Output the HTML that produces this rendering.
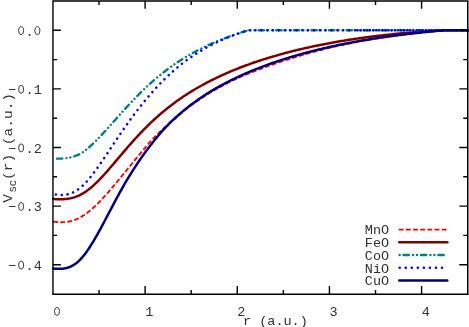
<!DOCTYPE html>
<html><head><meta charset="utf-8"><title>V_SC(r)</title>
<style>
html,body{margin:0;padding:0;background:#fff;}
body{width:469px;height:327px;overflow:hidden;}
svg{display:block;will-change:transform;}
text{font-family:"Liberation Mono",monospace;font-size:13.5px;fill:#303030;}
</style></head><body>
<svg width="469" height="327" viewBox="0 0 469 327">
<rect x="0" y="0" width="469" height="327" fill="#fff"/>
<clipPath id="c"><rect x="51.95" y="0.95" width="417.8" height="293.25"/></clipPath>
<g fill="none" clip-path="url(#c)" stroke-linejoin="round">
<path d="M53.20,221.69 L54.51,221.80 L55.82,221.91 L57.13,222.01 L58.44,222.09 L59.75,222.15 L61.05,222.18 L62.36,222.18 L63.67,222.14 L64.98,222.06 L66.29,221.93 L67.60,221.76 L68.91,221.54 L70.22,221.27 L71.53,220.94 L72.84,220.56 L74.15,220.13 L75.45,219.64 L76.76,219.09 L78.07,218.49 L79.38,217.84 L80.69,217.13 L82.00,216.36 L83.31,215.55 L84.62,214.68 L85.93,213.76 L87.24,212.80 L88.55,211.79 L89.86,210.73 L91.16,209.63 L92.47,208.49 L93.78,207.32 L95.09,206.10 L96.40,204.85 L97.71,203.56 L99.02,202.24 L100.33,200.90 L101.64,199.52 L102.95,198.12 L104.26,196.70 L105.56,195.25 L106.87,193.78 L108.18,192.30 L109.49,190.79 L110.80,189.28 L112.11,187.74 L113.42,186.20 L114.73,184.65 L116.04,183.08 L117.35,181.51 L118.66,179.94 L119.96,178.36 L121.27,176.77 L122.58,175.19 L123.89,173.60 L125.20,172.00 L126.51,170.38 L127.82,168.75 L129.13,167.13 L130.44,165.52 L131.75,163.91 L133.06,162.30 L134.37,160.70 L135.67,159.11 L136.98,157.52 L138.29,155.93 L139.60,154.36 L140.91,152.80 L142.22,151.24 L143.53,149.65 L144.84,148.08 L146.15,146.51 L147.46,144.96 L148.77,143.43 L150.07,141.91 L151.38,140.53 L152.69,139.16 L154.00,137.80 L155.31,136.46 L156.62,135.14 L157.93,133.82 L159.24,132.53 L160.55,131.26 L161.86,130.02 L163.17,128.80 L164.47,127.59 L165.78,126.39 L167.09,125.22 L168.40,124.05 L169.71,122.90 L171.02,121.77 L172.33,120.65 L173.64,119.55 L174.95,118.46 L176.26,117.32 L177.57,116.19 L178.87,115.08 L180.18,113.98 L181.49,112.90 L182.80,111.83 L184.11,110.78 L185.42,109.74 L186.73,108.71 L188.04,107.70 L189.35,106.70 L190.66,105.72 L191.97,104.75 L193.28,103.79 L194.58,102.85 L195.89,101.92 L197.20,101.00 L198.51,100.10 L199.82,99.20 L201.13,98.33 L202.44,97.46 L203.75,96.61 L205.06,95.77 L206.37,94.94 L207.68,94.12 L208.98,93.32 L210.29,92.52 L211.60,91.74 L212.91,90.97 L214.22,90.21 L215.53,89.46 L216.84,88.72 L218.15,87.99 L219.46,87.27 L220.77,86.56 L222.08,85.86 L223.38,85.18 L224.69,84.50 L226.00,83.83 L227.31,83.16 L228.62,82.51 L229.93,81.87 L231.24,81.23 L232.55,80.60 L233.86,79.99 L235.17,79.37 L236.48,78.77 L237.79,78.17 L239.09,77.59 L240.40,77.00 L241.71,76.43 L243.02,75.86 L244.33,75.30 L245.64,74.75 L246.95,74.20 L248.26,73.65 L249.57,73.12 L250.88,72.59 L252.19,72.06 L253.49,71.54 L254.80,71.03 L256.11,70.52 L257.42,70.01 L258.73,69.51 L260.04,69.02 L261.35,68.53 L262.66,68.04 L263.97,67.56 L265.28,67.08 L266.59,66.61 L267.89,66.14 L269.20,65.68 L270.51,65.22 L271.82,64.76 L273.13,64.31 L274.44,63.86 L275.75,63.41 L277.06,62.97 L278.37,62.53 L279.68,62.09 L280.99,61.66 L282.29,61.23 L283.60,60.81 L284.91,60.38 L286.22,59.96 L287.53,59.55 L288.84,59.13 L290.15,58.72 L291.46,58.32 L292.77,57.91 L294.08,57.51 L295.39,57.12 L296.70,56.72 L298.00,56.33 L299.31,55.94 L300.62,55.56 L301.93,55.18 L303.24,54.80 L304.55,54.42 L305.86,54.05 L307.17,53.68 L308.48,53.31 L309.79,52.95 L311.10,52.59 L312.40,52.23 L313.71,51.87 L315.02,51.52 L316.33,51.17 L317.64,50.83 L318.95,50.49 L320.26,50.15 L321.57,49.81 L322.88,49.48 L324.19,49.15 L325.50,48.82 L326.80,48.50 L328.11,48.18 L329.42,47.86 L330.73,47.55 L332.04,47.24 L333.35,46.93 L334.66,46.62 L335.97,46.32 L337.28,46.02 L338.59,45.73 L339.90,45.43 L341.21,45.14 L342.51,44.86 L343.82,44.57 L345.13,44.29 L346.44,44.02 L347.75,43.74 L349.06,43.47 L350.37,43.20 L351.68,42.94 L352.99,42.67 L354.30,42.41 L355.61,42.16 L356.91,41.90 L358.22,41.65 L359.53,41.40 L360.84,41.16 L362.15,40.92 L363.46,40.68 L364.77,40.44 L366.08,40.21 L367.39,39.97 L368.70,39.75 L370.01,39.52 L371.31,39.30 L372.62,39.07 L373.93,38.86 L375.24,38.64 L376.55,38.43 L377.86,38.22 L379.17,38.01 L380.48,37.80 L381.79,37.60 L383.10,37.40 L384.41,37.20 L385.71,37.00 L387.02,36.81 L388.33,36.62 L389.64,36.43 L390.95,36.24 L392.26,36.06 L393.57,35.88 L394.88,35.70 L396.19,35.52 L397.50,35.34 L398.81,35.17 L400.12,35.00 L401.42,34.83 L402.73,34.66 L404.04,34.50 L405.35,34.33 L406.66,34.17 L407.97,34.01 L409.28,33.86 L410.59,33.70 L411.90,33.55 L413.21,33.40 L414.52,33.25 L415.82,33.10 L417.13,32.96 L418.44,32.81 L419.75,32.67 L421.06,32.53 L422.37,32.39 L423.68,32.26 L424.99,32.12 L426.30,31.99 L427.61,31.86 L428.92,31.73 L430.22,31.60 L431.53,31.47 L432.84,31.35 L434.15,31.23 L435.46,31.11 L436.77,30.99 L438.08,30.87 L439.39,30.75 L440.70,30.64 L442.01,30.52 L443.32,30.41 L444.62,30.30 L470.00,30.30" stroke="#ff0000" stroke-width="1.9" stroke-dasharray="4.8 2.3"/>
<path d="M53.20,198.82 L54.51,199.03 L55.82,199.15 L57.13,199.23 L58.44,199.28 L59.75,199.30 L61.05,199.29 L62.36,199.26 L63.67,199.20 L64.98,199.10 L66.29,198.98 L67.60,198.81 L68.91,198.61 L70.22,198.37 L71.53,198.09 L72.84,197.75 L74.15,197.37 L75.45,196.93 L76.76,196.45 L78.07,195.91 L79.38,195.31 L80.69,194.65 L82.00,193.94 L83.31,193.18 L84.62,192.36 L85.93,191.48 L87.24,190.55 L88.55,189.57 L89.86,188.54 L91.16,187.46 L92.47,186.33 L93.78,185.16 L95.09,183.95 L96.40,182.69 L97.71,181.40 L99.02,180.08 L100.33,178.72 L101.64,177.34 L102.95,175.93 L104.26,174.49 L105.56,173.03 L106.87,171.55 L108.18,170.06 L109.49,168.55 L110.80,167.03 L112.11,165.50 L113.42,163.97 L114.73,162.42 L116.04,160.88 L117.35,159.33 L118.66,157.78 L119.96,156.23 L121.27,154.69 L122.58,153.15 L123.89,151.61 L125.20,150.08 L126.51,148.56 L127.82,147.05 L129.13,145.55 L130.44,144.07 L131.75,142.59 L133.06,141.12 L134.37,139.67 L135.67,138.23 L136.98,136.81 L138.29,135.40 L139.60,134.01 L140.91,132.63 L142.22,131.27 L143.53,129.92 L144.84,128.59 L146.15,127.28 L147.46,125.98 L148.77,124.70 L150.07,123.44 L151.38,122.19 L152.69,120.96 L154.00,119.74 L155.31,118.55 L156.62,117.37 L157.93,116.20 L159.24,115.05 L160.55,113.92 L161.86,112.80 L163.17,111.70 L164.47,110.62 L165.78,109.55 L167.09,108.50 L168.40,107.46 L169.71,106.43 L171.02,105.42 L172.33,104.43 L173.64,103.45 L174.95,102.48 L176.26,101.53 L177.57,100.59 L178.87,99.66 L180.18,98.75 L181.49,97.85 L182.80,96.96 L184.11,96.08 L185.42,95.22 L186.73,94.37 L188.04,93.53 L189.35,92.70 L190.66,91.89 L191.97,91.08 L193.28,90.29 L194.58,89.50 L195.89,88.73 L197.20,87.97 L198.51,87.21 L199.82,86.47 L201.13,85.74 L202.44,85.01 L203.75,84.30 L205.06,83.60 L206.37,82.90 L207.68,82.21 L208.98,81.53 L210.29,80.86 L211.60,80.20 L212.91,79.55 L214.22,78.91 L215.53,78.27 L216.84,77.64 L218.15,77.02 L219.46,76.40 L220.77,75.80 L222.08,75.20 L223.38,74.61 L224.69,74.02 L226.00,73.44 L227.31,72.87 L228.62,72.31 L229.93,71.75 L231.24,71.20 L232.55,70.66 L233.86,70.12 L235.17,69.58 L236.48,69.06 L237.79,68.54 L239.09,68.02 L240.40,67.52 L241.71,67.01 L243.02,66.52 L244.33,66.02 L245.64,65.54 L246.95,65.06 L248.26,64.58 L249.57,64.11 L250.88,63.65 L252.19,63.19 L253.49,62.73 L254.80,62.28 L256.11,61.84 L257.42,61.40 L258.73,60.96 L260.04,60.53 L261.35,60.10 L262.66,59.68 L263.97,59.26 L265.28,58.85 L266.59,58.44 L267.89,58.04 L269.20,57.64 L270.51,57.24 L271.82,56.85 L273.13,56.47 L274.44,56.08 L275.75,55.70 L277.06,55.33 L278.37,54.96 L279.68,54.59 L280.99,54.23 L282.29,53.87 L283.60,53.51 L284.91,53.16 L286.22,52.81 L287.53,52.47 L288.84,52.13 L290.15,51.79 L291.46,51.45 L292.77,51.12 L294.08,50.80 L295.39,50.47 L296.70,50.15 L298.00,49.84 L299.31,49.52 L300.62,49.21 L301.93,48.91 L303.24,48.60 L304.55,48.30 L305.86,48.01 L307.17,47.71 L308.48,47.42 L309.79,47.13 L311.10,46.85 L312.40,46.57 L313.71,46.29 L315.02,46.01 L316.33,45.74 L317.64,45.47 L318.95,45.20 L320.26,44.94 L321.57,44.68 L322.88,44.42 L324.19,44.16 L325.50,43.91 L326.80,43.66 L328.11,43.41 L329.42,43.17 L330.73,42.92 L332.04,42.68 L333.35,42.45 L334.66,42.21 L335.97,41.98 L337.28,41.75 L338.59,41.53 L339.90,41.30 L341.21,41.08 L342.51,40.86 L343.82,40.65 L345.13,40.43 L346.44,40.22 L347.75,40.01 L349.06,39.81 L350.37,39.60 L351.68,39.40 L352.99,39.20 L354.30,39.00 L355.61,38.81 L356.91,38.62 L358.22,38.43 L359.53,38.24 L360.84,38.05 L362.15,37.87 L363.46,37.69 L364.77,37.51 L366.08,37.33 L367.39,37.16 L368.70,36.99 L370.01,36.82 L371.31,36.65 L372.62,36.48 L373.93,36.32 L375.24,36.16 L376.55,36.00 L377.86,35.84 L379.17,35.68 L380.48,35.53 L381.79,35.38 L383.10,35.23 L384.41,35.08 L385.71,34.94 L387.02,34.80 L388.33,34.65 L389.64,34.51 L390.95,34.38 L392.26,34.24 L393.57,34.11 L394.88,33.98 L396.19,33.85 L397.50,33.72 L398.81,33.59 L400.12,33.47 L401.42,33.35 L402.73,33.23 L404.04,33.11 L405.35,32.99 L406.66,32.88 L407.97,32.77 L409.28,32.65 L410.59,32.54 L411.90,32.44 L413.21,32.33 L414.52,32.23 L415.82,32.13 L417.13,32.02 L418.44,31.93 L419.75,31.83 L421.06,31.73 L422.37,31.64 L423.68,31.55 L424.99,31.46 L426.30,31.37 L427.61,31.28 L428.92,31.20 L430.22,31.11 L431.53,31.03 L432.84,30.95 L434.15,30.87 L435.46,30.80 L436.77,30.72 L438.08,30.65 L439.39,30.57 L440.70,30.50 L442.01,30.43 L443.32,30.37 L444.62,30.30 L470.00,30.30" stroke="#800000" stroke-width="2.5" stroke-linecap="round"/>
<path d="M53.20,158.67 L53.85,158.67 L54.50,158.67 L55.16,158.67 L55.81,158.66 L56.46,158.66 L57.11,158.66 L57.76,158.65 L58.42,158.65 L59.07,158.64 L59.72,158.62 L60.37,158.61 L61.03,158.58 L61.68,158.56 L62.33,158.52 L62.98,158.48 L63.63,158.44 L64.29,158.39 L64.94,158.33 L65.59,158.26 L66.24,158.18 L66.89,158.09 L67.55,158.00 L68.20,157.89 L68.85,157.78 L69.50,157.65 L70.15,157.51 L70.81,157.36 L71.46,157.21 L72.11,157.03 L72.76,156.85 L73.41,156.65 L74.07,156.44 L74.72,156.22 L75.37,155.98 L76.02,155.73 L76.68,155.47 L77.33,155.18 L77.98,154.89 L78.63,154.57 L79.28,154.25 L79.94,153.90 L80.59,153.54 L81.24,153.16 L81.89,152.76 L82.54,152.35 L83.20,151.92 L83.85,151.47 L84.50,151.01 L85.15,150.53 L85.80,150.04 L86.46,149.53 L87.11,149.00 L87.76,148.47 L88.41,147.92 L89.07,147.36 L89.72,146.78 L90.37,146.20 L91.02,145.61 L91.67,145.00 L92.33,144.39 L92.98,143.77 L93.63,143.14 L94.28,142.50 L94.93,141.85 L95.59,141.20 L96.24,140.54 L96.89,139.88 L97.54,139.21 L98.19,138.54 L98.85,137.86 L99.50,137.17 L100.15,136.48 L100.80,135.79 L101.45,135.09 L102.11,134.39 L102.76,133.69 L103.41,132.98 L104.06,132.27 L104.72,131.56 L105.37,130.84 L106.02,130.13 L106.67,129.41 L107.32,128.68 L107.98,127.96 L108.63,127.23 L109.28,126.51 L109.93,125.78 L110.58,125.05 L111.24,124.32 L111.89,123.59 L112.54,122.86 L113.19,122.12 L113.84,121.39 L114.50,120.66 L115.15,119.93 L115.80,119.19 L116.45,118.46 L117.11,117.73 L117.76,117.00 L118.41,116.27 L119.06,115.54 L119.71,114.81 L120.37,114.08 L121.02,113.36 L121.67,112.63 L122.32,111.91 L122.97,111.19 L123.63,110.47 L124.28,109.75 L124.93,109.03 L125.58,108.32 L126.23,107.61 L126.89,106.90 L127.54,106.19 L128.19,105.49 L128.84,104.78 L129.49,104.08 L130.15,103.39 L130.80,102.69 L131.45,102.00 L132.10,101.31 L132.76,100.63 L133.41,99.94 L134.06,99.26 L134.71,98.59 L135.36,97.91 L136.02,97.24 L136.67,96.58 L137.32,95.91 L137.97,95.25 L138.62,94.60 L139.28,93.95 L139.93,93.30 L140.58,92.65 L141.23,92.01 L141.88,91.37 L142.54,90.73 L143.19,90.10 L143.84,89.48 L144.49,88.85 L145.15,88.23 L145.80,87.62 L146.45,87.00 L147.10,86.40 L147.75,85.79 L148.41,85.19 L149.06,84.59 L149.71,84.00 L150.36,83.41 L151.01,82.82 L151.67,82.24 L152.32,81.67 L152.97,81.09 L153.62,80.52 L154.27,79.96 L154.93,79.39 L155.58,78.84 L156.23,78.28 L156.88,77.73 L157.53,77.18 L158.19,76.64 L158.84,76.10 L159.49,75.57 L160.14,75.04 L160.80,74.51 L161.45,73.99 L162.10,73.47 L162.75,72.95 L163.40,72.44 L164.06,71.93 L164.71,71.43 L165.36,70.93 L166.01,70.43 L166.66,69.94 L167.32,69.45 L167.97,68.96 L168.62,68.48 L169.27,68.00 L169.92,67.52 L170.58,67.05 L171.23,66.58 L171.88,66.12 L172.53,65.66 L173.19,65.20 L173.84,64.75 L174.49,64.30 L175.14,63.85 L175.79,63.41 L176.45,62.97 L177.10,62.53 L177.75,62.10 L178.40,61.67 L179.05,61.24 L179.71,60.82 L180.36,60.40 L181.01,59.98 L181.66,59.57 L182.31,59.16 L182.97,58.75 L183.62,58.35 L184.27,57.95 L184.92,57.55 L185.57,57.16 L186.23,56.77 L186.88,56.38 L187.53,55.99 L188.18,55.61 L188.84,55.23 L189.49,54.85 L190.14,54.48 L190.79,54.11 L191.44,53.74 L192.10,53.38 L192.75,53.01 L193.40,52.66 L194.05,52.30 L194.70,51.95 L195.36,51.59 L196.01,51.25 L196.66,50.90 L197.31,50.56 L197.96,50.22 L198.62,49.88 L199.27,49.54 L199.92,49.21 L200.57,48.88 L201.23,48.55 L201.88,48.23 L202.53,47.91 L203.18,47.59 L203.83,47.27 L204.49,46.95 L205.14,46.64 L205.79,46.33 L206.44,46.02 L207.09,45.72 L207.75,45.41 L208.40,45.11 L209.05,44.81 L209.70,44.51 L210.35,44.22 L211.01,43.93 L211.66,43.64 L212.31,43.35 L212.96,43.06 L213.61,42.78 L214.27,42.50 L214.92,42.22 L215.57,41.94 L216.22,41.67 L216.88,41.39 L217.53,41.12 L218.18,40.85 L218.83,40.58 L219.48,40.32 L220.14,40.05 L220.79,39.79 L221.44,39.53 L222.09,39.27 L222.74,39.02 L223.40,38.76 L224.05,38.51 L224.70,38.26 L225.35,38.01 L226.00,37.76 L226.66,37.52 L227.31,37.27 L227.96,37.03 L228.61,36.79 L229.27,36.55 L229.92,36.32 L230.57,36.08 L231.22,35.85 L231.87,35.62 L232.53,35.39 L233.18,35.16 L233.83,34.93 L234.48,34.70 L235.13,34.48 L235.79,34.26 L236.44,34.04 L237.09,33.82 L237.74,33.60 L238.39,33.38 L239.05,33.17 L239.70,32.95 L240.35,32.74 L241.00,32.53 L241.65,32.32 L242.31,32.11 L242.96,31.91 L243.61,31.70 L244.26,31.50 L244.92,31.29 L245.57,31.09 L246.22,30.89 L246.87,30.69 L247.52,30.50 L248.18,30.30 L470.00,30.30" stroke="#008080" stroke-width="2.4" stroke-linecap="round" stroke-dasharray="5.3 4.25 0.01 4.0 0.01 4.03" stroke-dashoffset="13.86"/>
<path d="M53.20,194.25 L53.85,194.32 L54.50,194.39 L55.16,194.46 L55.81,194.53 L56.46,194.60 L57.11,194.66 L57.76,194.72 L58.42,194.78 L59.07,194.82 L59.72,194.86 L60.37,194.89 L61.03,194.92 L61.68,194.93 L62.33,194.92 L62.98,194.91 L63.63,194.88 L64.29,194.84 L64.94,194.78 L65.59,194.71 L66.24,194.62 L66.89,194.51 L67.55,194.38 L68.20,194.23 L68.85,194.07 L69.50,193.88 L70.15,193.67 L70.81,193.45 L71.46,193.20 L72.11,192.93 L72.76,192.64 L73.41,192.33 L74.07,192.00 L74.72,191.64 L75.37,191.27 L76.02,190.87 L76.68,190.45 L77.33,190.01 L77.98,189.55 L78.63,189.07 L79.28,188.57 L79.94,188.04 L80.59,187.50 L81.24,186.94 L81.89,186.36 L82.54,185.76 L83.20,185.14 L83.85,184.50 L84.50,183.85 L85.15,183.18 L85.80,182.49 L86.46,181.78 L87.11,181.06 L87.76,180.32 L88.41,179.57 L89.07,178.81 L89.72,178.02 L90.37,177.23 L91.02,176.42 L91.67,175.60 L92.33,174.77 L92.98,173.93 L93.63,173.07 L94.28,172.21 L94.93,171.33 L95.59,170.45 L96.24,169.55 L96.89,168.65 L97.54,167.74 L98.19,166.82 L98.85,165.90 L99.50,164.96 L100.15,164.03 L100.80,163.08 L101.45,162.13 L102.11,161.18 L102.76,160.22 L103.41,159.25 L104.06,158.28 L104.72,157.31 L105.37,156.34 L106.02,155.36 L106.67,154.38 L107.32,153.40 L107.98,152.42 L108.63,151.44 L109.28,150.45 L109.93,149.47 L110.58,148.48 L111.24,147.49 L111.89,146.51 L112.54,145.53 L113.19,144.54 L113.84,143.56 L114.50,142.58 L115.15,141.60 L115.80,140.62 L116.45,139.64 L117.11,138.67 L117.76,137.70 L118.41,136.73 L119.06,135.76 L119.71,134.80 L120.37,133.84 L121.02,132.88 L121.67,131.93 L122.32,130.98 L122.97,130.03 L123.63,129.09 L124.28,128.15 L124.93,127.21 L125.58,126.28 L126.23,125.36 L126.89,124.43 L127.54,123.52 L128.19,122.60 L128.84,121.69 L129.49,120.79 L130.15,119.89 L130.80,118.99 L131.45,118.10 L132.10,117.21 L132.76,116.33 L133.41,115.45 L134.06,114.58 L134.71,113.71 L135.36,112.85 L136.02,111.99 L136.67,111.13 L137.32,110.29 L137.97,109.44 L138.62,108.60 L139.28,107.77 L139.93,106.94 L140.58,106.11 L141.23,105.29 L141.88,104.48 L142.54,103.67 L143.19,102.86 L143.84,102.06 L144.49,101.26 L145.15,100.47 L145.80,99.69 L146.45,98.91 L147.10,98.13 L147.75,97.36 L148.41,96.59 L149.06,95.83 L149.71,95.07 L150.36,94.32 L151.01,93.57 L151.67,92.83 L152.32,92.09 L152.97,91.36 L153.62,90.63 L154.27,89.91 L154.93,89.19 L155.58,88.48 L156.23,87.77 L156.88,87.07 L157.53,86.37 L158.19,85.68 L158.84,84.99 L159.49,84.30 L160.14,83.63 L160.80,82.95 L161.45,82.29 L162.10,81.62 L162.75,80.96 L163.40,80.31 L164.06,79.66 L164.71,79.02 L165.36,78.38 L166.01,77.75 L166.66,77.12 L167.32,76.49 L167.97,75.88 L168.62,75.26 L169.27,74.65 L169.92,74.05 L170.58,73.45 L171.23,72.86 L171.88,72.27 L172.53,71.69 L173.19,71.11 L173.84,70.53 L174.49,69.97 L175.14,69.40 L175.79,68.84 L176.45,68.29 L177.10,67.74 L177.75,67.19 L178.40,66.65 L179.05,66.12 L179.71,65.59 L180.36,65.06 L181.01,64.54 L181.66,64.03 L182.31,63.51 L182.97,63.01 L183.62,62.50 L184.27,62.01 L184.92,61.51 L185.57,61.03 L186.23,60.54 L186.88,60.06 L187.53,59.59 L188.18,59.12 L188.84,58.65 L189.49,58.19 L190.14,57.73 L190.79,57.28 L191.44,56.83 L192.10,56.38 L192.75,55.94 L193.40,55.50 L194.05,55.07 L194.70,54.64 L195.36,54.22 L196.01,53.80 L196.66,53.38 L197.31,52.97 L197.96,52.56 L198.62,52.16 L199.27,51.76 L199.92,51.36 L200.57,50.97 L201.23,50.58 L201.88,50.19 L202.53,49.81 L203.18,49.43 L203.83,49.05 L204.49,48.68 L205.14,48.32 L205.79,47.95 L206.44,47.59 L207.09,47.23 L207.75,46.88 L208.40,46.53 L209.05,46.18 L209.70,45.84 L210.35,45.50 L211.01,45.16 L211.66,44.82 L212.31,44.49 L212.96,44.16 L213.61,43.84 L214.27,43.52 L214.92,43.20 L215.57,42.88 L216.22,42.57 L216.88,42.26 L217.53,41.95 L218.18,41.65 L218.83,41.34 L219.48,41.05 L220.14,40.75 L220.79,40.46 L221.44,40.17 L222.09,39.88 L222.74,39.59 L223.40,39.31 L224.05,39.03 L224.70,38.75 L225.35,38.48 L226.00,38.21 L226.66,37.94 L227.31,37.67 L227.96,37.41 L228.61,37.14 L229.27,36.88 L229.92,36.63 L230.57,36.37 L231.22,36.12 L231.87,35.87 L232.53,35.62 L233.18,35.38 L233.83,35.13 L234.48,34.89 L235.13,34.65 L235.79,34.41 L236.44,34.18 L237.09,33.95 L237.74,33.72 L238.39,33.49 L239.05,33.26 L239.70,33.04 L240.35,32.82 L241.00,32.60 L241.65,32.38 L242.31,32.16 L242.96,31.95 L243.61,31.73 L244.26,31.52 L244.92,31.32 L245.57,31.11 L246.22,30.90 L246.87,30.70 L247.52,30.50 L248.18,30.30 L355.00,30.30" stroke="#0000ff" stroke-width="2.6" stroke-linecap="round" stroke-dasharray="0.01 5.84" stroke-dashoffset="3.10"/>
<path d="M357.60,30.3 H470" stroke="#0000ff" stroke-width="2.6" stroke-linecap="round" stroke-dasharray="0.01 3.09"/>
<path d="M53.20,268.47 L54.51,268.63 L55.82,268.72 L57.13,268.78 L58.44,268.80 L59.75,268.79 L61.05,268.75 L62.36,268.66 L63.67,268.52 L64.98,268.32 L66.29,268.05 L67.60,267.71 L68.91,267.29 L70.22,266.78 L71.53,266.17 L72.84,265.47 L74.15,264.66 L75.45,263.75 L76.76,262.73 L78.07,261.61 L79.38,260.37 L80.69,259.04 L82.00,257.60 L83.31,256.06 L84.62,254.42 L85.93,252.69 L87.24,250.87 L88.55,248.98 L89.86,247.00 L91.16,244.95 L92.47,242.83 L93.78,240.66 L95.09,238.43 L96.40,236.15 L97.71,233.82 L99.02,231.46 L100.33,229.07 L101.64,226.64 L102.95,224.20 L104.26,221.74 L105.56,219.26 L106.87,216.77 L108.18,214.28 L109.49,211.79 L110.80,209.31 L112.11,206.82 L113.42,204.35 L114.73,201.89 L116.04,199.45 L117.35,197.02 L118.66,194.61 L119.96,192.22 L121.27,189.86 L122.58,187.52 L123.89,185.20 L125.20,182.92 L126.51,180.71 L127.82,178.52 L129.13,176.37 L130.44,174.24 L131.75,172.15 L133.06,170.09 L134.37,168.06 L135.67,166.06 L136.98,164.09 L138.29,162.16 L139.60,160.26 L140.91,158.36 L142.22,156.48 L143.53,154.63 L144.84,152.81 L146.15,151.03 L147.46,149.27 L148.77,147.55 L150.07,145.85 L151.38,144.14 L152.69,142.46 L154.00,140.81 L155.31,139.19 L156.62,137.59 L157.93,136.03 L159.24,134.49 L160.55,132.97 L161.86,131.48 L163.17,130.02 L164.47,128.58 L165.78,127.19 L167.09,125.85 L168.40,124.52 L169.71,123.22 L171.02,121.94 L172.33,120.68 L173.64,119.45 L174.95,118.23 L176.26,117.03 L177.57,115.86 L178.87,114.70 L180.18,113.56 L181.49,112.44 L182.80,111.34 L184.11,110.26 L185.42,109.19 L186.73,108.14 L188.04,107.11 L189.35,106.09 L190.66,105.09 L191.97,104.10 L193.28,103.13 L194.58,102.17 L195.89,101.23 L197.20,100.30 L198.51,99.39 L199.82,98.48 L201.13,97.59 L202.44,96.72 L203.75,95.85 L205.06,95.00 L206.37,94.16 L207.68,93.33 L208.98,92.52 L210.29,91.71 L211.60,90.92 L212.91,90.13 L214.22,89.36 L215.53,88.60 L216.84,87.85 L218.15,87.10 L219.46,86.37 L220.77,85.65 L222.08,84.93 L223.38,84.23 L224.69,83.53 L226.00,82.84 L227.31,82.16 L228.62,81.49 L229.93,80.83 L231.24,80.18 L232.55,79.53 L233.86,78.89 L235.17,78.26 L236.48,77.64 L237.79,77.02 L239.09,76.41 L240.40,75.81 L241.71,75.22 L243.02,74.63 L244.33,74.05 L245.64,73.47 L246.95,72.91 L248.26,72.35 L249.57,71.79 L250.88,71.24 L252.19,70.70 L253.49,70.17 L254.80,69.64 L256.11,69.11 L257.42,68.59 L258.73,68.08 L260.04,67.57 L261.35,67.07 L262.66,66.57 L263.97,66.08 L265.28,65.60 L266.59,65.12 L267.89,64.64 L269.20,64.17 L270.51,63.71 L271.82,63.25 L273.13,62.79 L274.44,62.34 L275.75,61.90 L277.06,61.45 L278.37,61.02 L279.68,60.59 L280.99,60.16 L282.29,59.74 L283.60,59.32 L284.91,58.90 L286.22,58.49 L287.53,58.09 L288.84,57.68 L290.15,57.29 L291.46,56.89 L292.77,56.50 L294.08,56.12 L295.39,55.74 L296.70,55.36 L298.00,54.98 L299.31,54.61 L300.62,54.25 L301.93,53.88 L303.24,53.52 L304.55,53.17 L305.86,52.82 L307.17,52.47 L308.48,52.12 L309.79,51.78 L311.10,51.44 L312.40,51.11 L313.71,50.78 L315.02,50.45 L316.33,50.12 L317.64,49.80 L318.95,49.48 L320.26,49.17 L321.57,48.85 L322.88,48.54 L324.19,48.24 L325.50,47.94 L326.80,47.64 L328.11,47.34 L329.42,47.04 L330.73,46.75 L332.04,46.46 L333.35,46.18 L334.66,45.90 L335.97,45.62 L337.28,45.34 L338.59,45.07 L339.90,44.79 L341.21,44.53 L342.51,44.26 L343.82,44.00 L345.13,43.74 L346.44,43.48 L347.75,43.22 L349.06,42.97 L350.37,42.72 L351.68,42.47 L352.99,42.23 L354.30,41.98 L355.61,41.74 L356.91,41.51 L358.22,41.27 L359.53,41.04 L360.84,40.81 L362.15,40.58 L363.46,40.35 L364.77,40.13 L366.08,39.91 L367.39,39.69 L368.70,39.47 L370.01,39.26 L371.31,39.05 L372.62,38.84 L373.93,38.63 L375.24,38.42 L376.55,38.22 L377.86,38.02 L379.17,37.82 L380.48,37.62 L381.79,37.43 L383.10,37.24 L384.41,37.05 L385.71,36.86 L387.02,36.67 L388.33,36.49 L389.64,36.30 L390.95,36.12 L392.26,35.94 L393.57,35.77 L394.88,35.59 L396.19,35.42 L397.50,35.25 L398.81,35.08 L400.12,34.92 L401.42,34.75 L402.73,34.59 L404.04,34.43 L405.35,34.27 L406.66,34.11 L407.97,33.95 L409.28,33.80 L410.59,33.65 L411.90,33.50 L413.21,33.35 L414.52,33.20 L415.82,33.06 L417.13,32.92 L418.44,32.78 L419.75,32.64 L421.06,32.50 L422.37,32.36 L423.68,32.23 L424.99,32.09 L426.30,31.96 L427.61,31.83 L428.92,31.71 L430.22,31.58 L431.53,31.46 L432.84,31.33 L434.15,31.21 L435.46,31.09 L436.77,30.97 L438.08,30.86 L439.39,30.74 L440.70,30.63 L442.01,30.52 L443.32,30.41 L444.62,30.30 L470.00,30.30" stroke="#000080" stroke-width="2.5" stroke-linecap="round"/>
</g>
<g stroke="#000" stroke-width="1.4" fill="none">
<path d="M52.95,294.2 V0.95 H468.5"/>
<path d="M52.25,294.2 H468.5"/>
<path d="M467.75,0.95 V294.2" stroke-width="1.5"/>
<path d="M99.03,294.2 v-4.3 M99.03,0.95 v4.0 M145.11,294.2 v-8.3 M145.11,0.95 v7.9 M191.19,294.2 v-4.3 M191.19,0.95 v4.0 M237.27,294.2 v-8.3 M237.27,0.95 v7.9 M283.35,294.2 v-4.3 M283.35,0.95 v4.0 M329.43,294.2 v-8.3 M329.43,0.95 v7.9 M375.51,294.2 v-4.3 M375.51,0.95 v4.0 M421.59,294.2 v-8.3 M421.59,0.95 v7.9 M52.95,30.30 h7.95 M467.75,30.30 h-8.45 M52.95,59.60 h4.15 M467.75,59.60 h-4.5 M52.95,88.90 h7.95 M467.75,88.90 h-8.45 M52.95,118.20 h4.15 M467.75,118.20 h-4.5 M52.95,147.50 h7.95 M467.75,147.50 h-8.45 M52.95,176.80 h4.15 M467.75,176.80 h-4.5 M52.95,206.10 h7.95 M467.75,206.10 h-8.45 M52.95,235.40 h4.15 M467.75,235.40 h-4.5 M52.95,264.70 h7.95 M467.75,264.70 h-8.45 "/>
</g>
<g>
<text x="53.00" y="316.40" xml:space="preserve" style="white-space:pre"> </text>
<ellipse cx="57.00" cy="311.45" rx="2.5" ry="4.0" fill="none" stroke="#303030" stroke-width="0.95"/>
<text x="145.16" y="316.40" xml:space="preserve" style="white-space:pre">1</text>
<text x="237.32" y="316.40" xml:space="preserve" style="white-space:pre">2</text>
<text x="329.48" y="316.40" xml:space="preserve" style="white-space:pre">3</text>
<text x="421.64" y="316.40" xml:space="preserve" style="white-space:pre">4</text>
<text x="17.50 25.60 33.70" y="35.60" xml:space="preserve" style="white-space:pre"> . </text>
<ellipse cx="21.15" cy="30.65" rx="2.5" ry="4.0" fill="none" stroke="#303030" stroke-width="0.95"/>
<ellipse cx="37.35" cy="30.65" rx="2.5" ry="4.0" fill="none" stroke="#303030" stroke-width="0.95"/>
<text x="8.10 17.50 25.60 33.70" y="94.20" xml:space="preserve" style="white-space:pre">− .1</text>
<ellipse cx="21.15" cy="89.25" rx="2.5" ry="4.0" fill="none" stroke="#303030" stroke-width="0.95"/>
<text x="8.10 17.50 25.60 33.70" y="152.80" xml:space="preserve" style="white-space:pre">− .2</text>
<ellipse cx="21.15" cy="147.85" rx="2.5" ry="4.0" fill="none" stroke="#303030" stroke-width="0.95"/>
<text x="8.10 17.50 25.60 33.70" y="211.40" xml:space="preserve" style="white-space:pre">− .3</text>
<ellipse cx="21.15" cy="206.45" rx="2.5" ry="4.0" fill="none" stroke="#303030" stroke-width="0.95"/>
<text x="8.10 17.50 25.60 33.70" y="270.00" xml:space="preserve" style="white-space:pre">− .4</text>
<ellipse cx="21.15" cy="265.05" rx="2.5" ry="4.0" fill="none" stroke="#303030" stroke-width="0.95"/>
<text x="243.0" y="324.9">r (a.u.)</text>
<text transform="translate(11.6,0) rotate(-90) scale(1,0.9)" font-size="14.5" style="font-size:14.5px"><tspan x="-202.65" y="0">V</tspan><tspan style="font-size:11.60px" x="-192.88" y="4.4">s</tspan><tspan style="font-size:11.60px" x="-186.58" y="4.4">c</tspan><tspan x="-179.90" y="0">(r) (a.u.)</tspan></text>
<text transform="translate(389.1,234.45) scale(1,0.91)" text-anchor="end">MnO</text>
<path d="M398.7,229.6 H448.0" fill="none" stroke="#ff0000" stroke-width="1.9" stroke-dasharray="4.9 2.27"/>
<text transform="translate(389.1,247.15) scale(1,0.91)" text-anchor="end">FeO</text>
<path d="M399.3,242.3 H447.3" fill="none" stroke="#800000" stroke-width="2.5" stroke-linecap="round"/>
<text transform="translate(389.1,259.85) scale(1,0.91)" text-anchor="end">CoO</text>
<path d="M399.6,255.0 H444.2" fill="none" stroke="#008080" stroke-width="2.4" stroke-linecap="round" stroke-dasharray="5.3 4.2 0.01 3.95 0.01 3.95" stroke-dashoffset="13.46"/>
<text transform="translate(389.1,272.55) scale(1,0.91)" text-anchor="end">NiO</text>
<path d="M399.7,267.7 H443" fill="none" stroke="#0000ff" stroke-width="2.6" stroke-linecap="round" stroke-dasharray="0.01 6.03"/>
<text transform="translate(389.1,285.25) scale(1,0.91)" text-anchor="end">CuO</text>
<path d="M399.3,280.4 H447.3" fill="none" stroke="#000080" stroke-width="2.5" stroke-linecap="round"/>
</g>
</svg>
</body></html>
